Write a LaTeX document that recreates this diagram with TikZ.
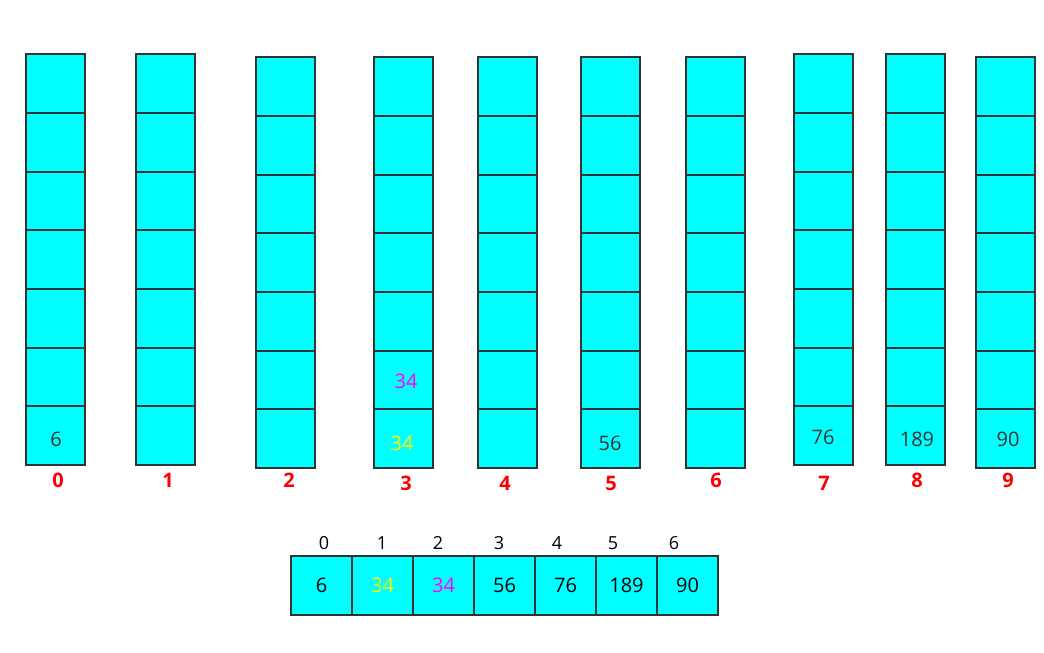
\documentclass[tikz,border=0pt]{standalone}
\usepackage{fontspec}
\setmainfont{Open Sans}
\definecolor{cellfill}{HTML}{00FFFF}
\definecolor{cellline}{HTML}{333333}
\definecolor{valyellow}{HTML}{FFFF00}
\definecolor{valmagenta}{HTML}{FF00FF}
\definecolor{labelred}{HTML}{FF0000}
\tikzset{
  cell/.style={draw=cellline, line width=2pt, minimum width=59pt,
    minimum height=58.7pt, inner sep=0pt, outer sep=0pt, font=\fontsize{20}{24}\selectfont},
  bucketlabel/.style={text=labelred, font=\fontsize{20}{24}\selectfont\bfseries, inner sep=0pt},
  bucketval/.style={text=cellline, font=\fontsize{20}{24}\selectfont, inner sep=0pt},
  idxlabel/.style={text=black, font=\fontsize{18}{22}\selectfont, inner sep=0pt}
}
\begin{document}
\begin{tikzpicture}[x=1pt,y=-1pt]
    \useasboundingbox (0,0) rectangle (1044,653);

    % Les dix seaux (7 cases chacun)
    \foreach \i/\x/\y/\lx/\ly in {0/26/54/58/480, 1/136/54/168/480, 2/256/57/289/480,
        3/374/57/406/483, 4/478/57/505/483, 5/581/57/611/483, 6/686/57/716/480,
        7/794/54/824/483, 8/886/54/917/480, 9/976/57/1008/480}{
        \fill[cellfill] (\x,\y) rectangle ({\x+59},{\y+411});
        \foreach \j in {0,...,6}
            \node[cell] (b\i-\j) at ({\x+29.5},{\y+381.65-58.7*\j}) {};
        \node[bucketlabel] (l\i) at (\lx,\ly) {\i};
    }

    % Valeurs dans les seaux
    \node[bucketval] (v0) at (56,439) {6};
    \node[bucketval, text=valyellow] (v3a) at (402,443) {34};
    \node[bucketval, text=valmagenta] (v3b) at (406,381) {34};
    \node[bucketval] (v5) at (610,443) {56};
    \node[bucketval] (v7) at (823,437) {76};
    \node[bucketval] (v8) at (917,439) {189};
    \node[bucketval] (v9) at (1008,439) {90};

    % Tableau trié
    \fill[cellfill] (291,555.5) rectangle (718,614.5);
    \foreach \k/\v/\c/\lx in {0/6/black/324, 1/34/valyellow/382, 2/34/valmagenta/438,
        3/56/black/499, 4/76/black/557, 5/189/black/613, 6/90/black/674}{
        \node[cell, minimum width=61pt, minimum height=59pt, text=\c] (a\k) at ({321.5+61*\k},585) {\v};
        \node[idxlabel] (n\k) at (\lx,543) {\k};
    }
\end{tikzpicture}
\end{document}
